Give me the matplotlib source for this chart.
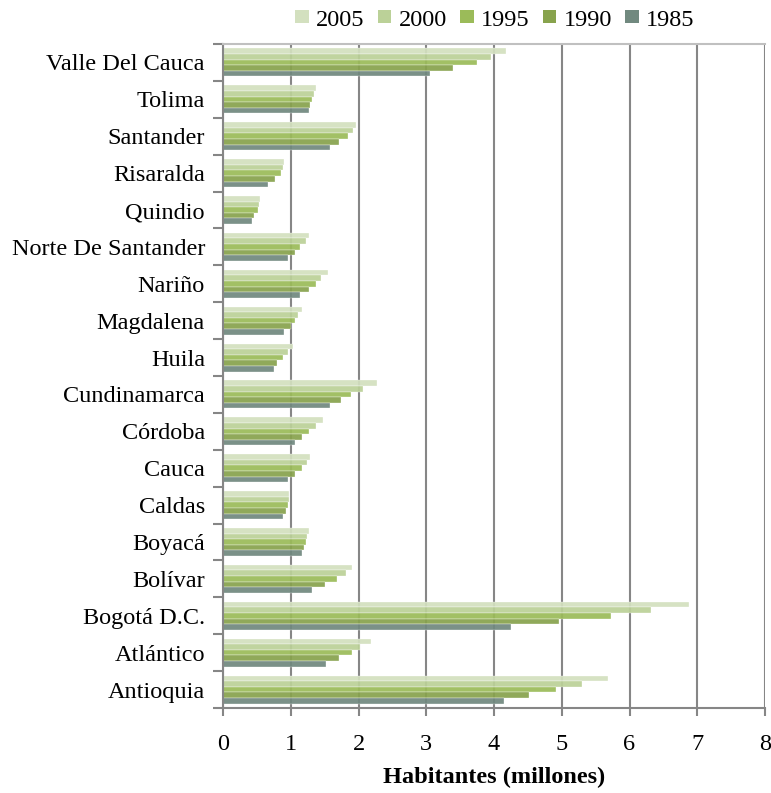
import matplotlib
matplotlib.use("Agg")
import matplotlib.pyplot as plt
from matplotlib.patches import Patch
import numpy as np

plt.rcParams['font.family'] = ['Liberation Serif', 'DejaVu Serif']

departamentos = ["Antioquia", "Atlántico", "Bogotá D.C.", "Bolívar", "Boyacá", "Caldas",
                 "Cauca", "Córdoba", "Cundinamarca", "Huila", "Magdalena", "Nariño",
                 "Norte De Santander", "Quindio", "Risaralda", "Santander", "Tolima",
                 "Valle Del Cauca"]

v1985 = [4.15, 1.52, 4.25, 1.32, 1.16, 0.88, 0.96, 1.06, 1.58, 0.75, 0.90, 1.14, 0.96, 0.43, 0.67, 1.58, 1.27, 3.05]
v1990 = [4.51, 1.71, 4.96, 1.50, 1.19, 0.93, 1.06, 1.16, 1.74, 0.80, 1.01, 1.27, 1.06, 0.46, 0.77, 1.71, 1.29, 3.39]
v1995 = [4.91, 1.90, 5.72, 1.69, 1.22, 0.96, 1.16, 1.27, 1.89, 0.88, 1.06, 1.37, 1.14, 0.51, 0.85, 1.84, 1.32, 3.75]
v2000 = [5.30, 2.02, 6.32, 1.82, 1.24, 0.98, 1.24, 1.37, 2.07, 0.96, 1.11, 1.45, 1.22, 0.53, 0.88, 1.92, 1.35, 3.96]
v2005 = [5.69, 2.18, 6.88, 1.90, 1.27, 0.98, 1.29, 1.48, 2.28, 1.03, 1.16, 1.55, 1.27, 0.54, 0.90, 1.97, 1.37, 4.17]

series = [("2005", v2005, "#D3E0BF"),
          ("2000", v2000, "#BBD198"),
          ("1995", v1995, "#9BBB59"),
          ("1990", v1990, "#88A34D"),
          ("1985", v1985, "#71897F")]

FS = 17.5

fig = plt.figure(figsize=(7.71, 7.93), dpi=100)
ax = fig.add_axes([223/771, 1-708/793, (765-223)/771, (708-44)/793])

y = np.arange(len(departamentos))
h = 0.152
offsets = [2*h, h, 0, -h, -2*h]
for (lab, vals, col), off in zip(series, offsets):
    ax.barh(y + off, vals, height=h, color=col, edgecolor=(1, 1, 1, 0.4),
            linewidth=0.25, zorder=2, alpha=0.93)

ax.set_xlim(0, 8)
ax.set_ylim(-0.5, len(departamentos) - 0.5)
ax.set_xticks(range(0, 9))
ax.set_xticklabels([str(i) for i in range(0, 9)], fontsize=FS)
ax.tick_params(axis='x', direction='out', length=6, width=1.5, color='#868686', pad=13)

ax.set_yticks(np.arange(-0.5, len(departamentos), 1.0))
ax.set_yticklabels([])
ax.set_yticks(y, minor=True)
ax.set_yticklabels(departamentos, minor=True, fontsize=FS)
ax.tick_params(axis='y', which='major', direction='out', length=7, width=1.5, color='#868686')
ax.tick_params(axis='y', which='minor', length=0, pad=13)

ax.grid(axis='x', color='#868686', linewidth=1.5, zorder=1)
ax.set_axisbelow(True)

for s in ['left', 'bottom']:
    ax.spines[s].set_color('#868686')
    ax.spines[s].set_linewidth(1.5)
ax.spines['right'].set_visible(False)
ax.spines['top'].set_color('#C0C0C0')
ax.spines['top'].set_linewidth(1.5)

ax.set_xlabel("Habitantes (millones)", fontsize=FS, fontweight='bold', labelpad=8)

handles = [Patch(facecolor=col, edgecolor='none', label=lab) for lab, _, col in series]
leg = fig.legend(handles=handles, loc='center', bbox_to_anchor=(495/771, 1-20/793), ncol=5,
                 frameon=False, fontsize=FS, handlelength=0.55, handleheight=0.45,
                 handletextpad=0.3, columnspacing=0.55, borderpad=0)

fig.savefig("out.png", dpi=100)
